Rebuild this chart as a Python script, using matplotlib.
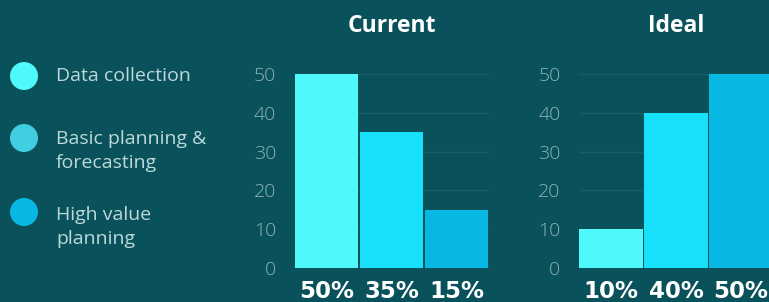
import matplotlib
matplotlib.use("Agg")
import matplotlib.pyplot as plt
from matplotlib.patches import Ellipse

categories = ["Data collection", "Basic planning &\nforecasting", "High value\nplanning"]
current_values = [50, 35, 15]
ideal_values = [10, 40, 50]
current_labels = ["50%", "35%", "15%"]
ideal_labels = ["10%", "40%", "50%"]
yticks = [0, 10, 20, 30, 40, 50]

BG = "#0a525b"
bar_colors = ["#4ef8fb", "#17e0fa", "#07b8e4"]
legend_colors = ["#4ef8fb", "#40cfe0", "#07b8e4"]
TICK = "#8cb3b6"
LEG_TXT = "#bcd8da"
GRID = "#175d66"

plt.rcParams['font.family'] = ['Open Sans', 'DejaVu Sans']

W, H = 769, 302
fig = plt.figure(figsize=(W / 100, H / 100), dpi=100, facecolor=BG)

def px_axes(left, right, top, bottom):
    return [left / W, 1 - bottom / H, (right - left) / W, (bottom - top) / H]

def panel(rect, values, labels, title):
    ax = fig.add_axes(rect)
    ax.set_facecolor(BG)
    x = list(range(len(values)))
    ax.bar(x, values, width=0.975, color=bar_colors, edgecolor="none", zorder=3)
    ax.set_xlim(-0.5, len(values) - 0.5)
    ax.set_ylim(0, 50)
    ax.set_yticks(yticks)
    ax.tick_params(axis='y', length=0, pad=13, labelsize=14, labelcolor=TICK)
    for t in ax.get_yticklabels():
        t.set_fontweight('light')
    ax.set_xticks(x)
    ax.set_xticklabels(labels, fontsize=16.5, fontweight='bold', color='white',
                       family='DejaVu Sans')
    ax.tick_params(axis='x', length=0, pad=9)
    for s in ax.spines.values():
        s.set_visible(False)
    ax.grid(axis='y', color=GRID, linewidth=1, zorder=0)
    ax.set_title(title, fontsize=16.5, fontweight='bold', color='white', pad=30)
    return ax

panel(px_axes(294, 489, 74, 268), current_values, current_labels, "Current")
panel(px_axes(578.5, 773.5, 74, 268), ideal_values, ideal_labels, "Ideal")

# legend
leg_y = [76, 138, 212]
text_y = [76, 151, 227]
for c, col, cy, ty in zip(categories, legend_colors, leg_y, text_y):
    fig.patches.append(Ellipse((24 / W, 1 - cy / H), 28 / W, 28 / H, transform=fig.transFigure,
                               facecolor=col, edgecolor='none'))
    fig.text(56 / W, 1 - ty / H, c, fontsize=14, color=LEG_TXT, va='center', ha='left',
             linespacing=1.5)

fig.savefig("out.png", dpi=100, facecolor=BG)
